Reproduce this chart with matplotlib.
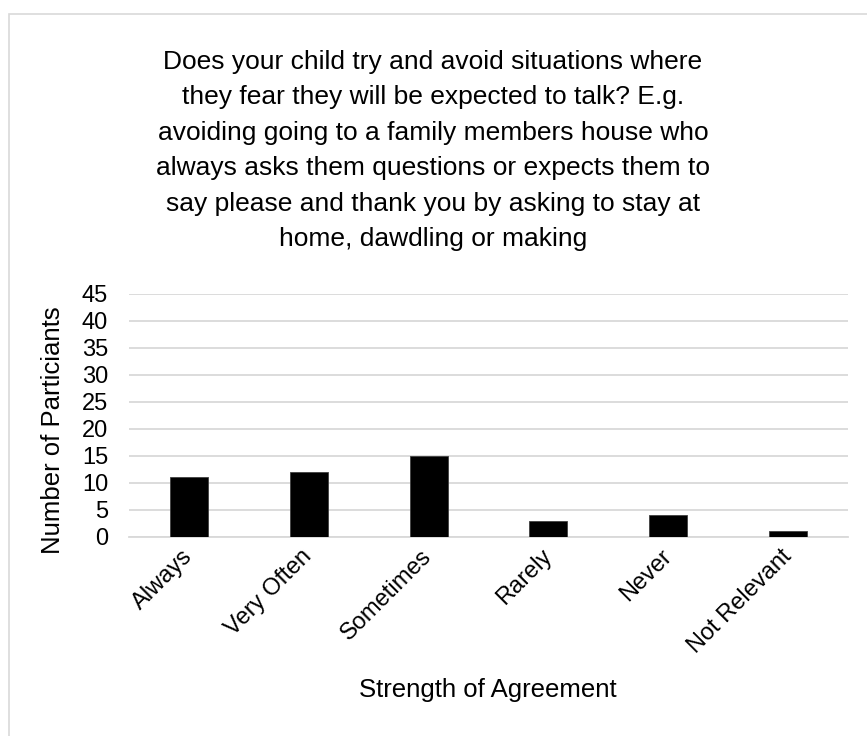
import matplotlib
matplotlib.use("Agg")
import matplotlib.pyplot as plt
from matplotlib.patches import Rectangle

categories = ["Always", "Very Often", "Sometimes", "Rarely", "Never", "Not Relevant"]
values = [11, 12, 15, 3, 4, 1]
yticks = [0, 5, 10, 15, 20, 25, 30, 35, 40, 45]
title = ("Does your child try and avoid situations where\n"
         "they fear they will be expected to talk? E.g.\n"
         "avoiding going to a family members house who\n"
         "always asks them questions or expects them to\n"
         "say please and thank you by asking to stay at\n"
         "home, dawdling or making")

plt.rcParams['font.family'] = ['Liberation Sans', 'DejaVu Sans']

W, H = 867, 736
fig = plt.figure(figsize=(W / 100, H / 100), dpi=100)
fig.patch.set_facecolor('white')

# outer chart border
fig.patches.append(Rectangle((9 / W, -0.05), 1.2, (H - 14.5) / H + 0.05,
                             transform=fig.transFigure, fill=False,
                             edgecolor='#D9D9D9', linewidth=1.2))

ax = fig.add_axes([129 / W, (H - 536.7) / H, (848 - 129) / W, (536.7 - 293.7) / H])
x = list(range(len(categories)))
ax.bar(x, values, width=0.317, color='black', edgecolor='#404040', linewidth=0.6, zorder=3)
ax.set_xlim(-0.5, len(categories) - 0.5)
ax.set_ylim(0, 45)
ax.set_yticks(yticks)
ax.yaxis.grid(True, color='#D9D9D9', linewidth=1.3, zorder=0)
for s in ['top', 'right', 'left']:
    ax.spines[s].set_visible(False)
ax.spines['bottom'].set_color('#D9D9D9')
ax.spines['bottom'].set_linewidth(1.3)
ax.tick_params(axis='both', length=0, labelsize=17, colors='black')
ax.tick_params(axis='y', pad=15)
ax.set_xticks(x)
ax.set_xticklabels(categories, rotation=45, ha='right', va='center',
                   rotation_mode='anchor')
ax.tick_params(axis='x', pad=12)

fig.text(53 / W, 1 - 430 / H, "Number of Particiants", fontsize=18.5,
         rotation=90, ha='center', va='center')
fig.text(488 / W, 1 - 690 / H, "Strength of Agreement", fontsize=18.5,
         ha='center', va='center')
fig.text(433 / W, 1 - 50 / H, title, fontsize=19, ha='center', va='top',
         linespacing=1.6)

fig.savefig("out.png", dpi=100, facecolor='white')
